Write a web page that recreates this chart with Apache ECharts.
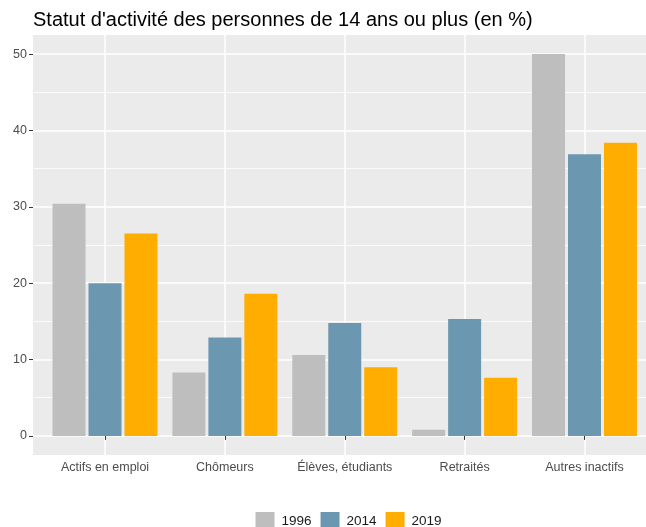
<!DOCTYPE html>
<html>
<head>
    <meta charset="utf-8">
    <title>Statut d'activité</title>
    <script src="https://cdn.jsdelivr.net/npm/echarts@6/dist/echarts.min.js"></script>
</head>
<body style="margin:0;background:#fff;">
    <div id="main" style="width:646px;height:527px;"></div>
    <script type="text/javascript">
        // données
        var categories = ['Actifs en emploi', 'Chômeurs', 'Élèves, étudiants', 'Retraités', 'Autres inactifs'];
        var annees = ['1996', '2014', '2019'];
        var v1996 = [30.4, 8.3, 10.6, 0.8, 50.0];
        var v2014 = [20.0, 12.9, 14.8, 15.3, 36.9];
        var v2019 = [26.5, 18.6, 9.0, 7.6, 38.4];
        var yTicks = [0, 10, 20, 30, 40, 50];

        var couleurs = ['#BEBEBE', '#6C97B0', '#FFAD00'];
        var police = 'Liberation Sans, Arial, sans-serif';

        var myChart = echarts.init(document.getElementById('main'));

        var option = {
            backgroundColor: '#fff',
            animation: false,
            color: couleurs,
            title: {
                text: "Statut d'activité des personnes de 14 ans ou plus (en %)",
                left: 33,
                top: 10,
                padding: 0,
                textStyle: {color: '#000', fontSize: 20, fontWeight: 'normal', fontFamily: police}
            },
            legend: {
                data: annees,
                left: 255.5,
                top: 512,
                padding: 0,
                icon: 'rect',
                itemWidth: 19,
                itemHeight: 19,
                itemGap: 9,
                textStyle: {color: '#1A1A1A', fontSize: 13.5, fontFamily: police, padding: [0, 0, 0, 2]}
            },
            grid: [
                // 0 : lignes horizontales et axe y (0..50)
                {left: 33, right: 0, top: 54.1, bottom: 527 - 435.9},
                // 1 : catégories et barres
                {left: 105, right: 61.5, top: 35, bottom: 72},
                // 2 : fond du panneau
                {left: 33, right: 0, top: 35, bottom: 72, show: true, backgroundColor: '#EBEBEB', borderWidth: 0}
            ],
            xAxis: [
                {gridIndex: 0, type: 'value', show: false},
                {
                    gridIndex: 1,
                    type: 'category',
                    data: categories,
                    boundaryGap: false,
                    axisLine: {show: false},
                    axisTick: {show: true, length: 4, lineStyle: {color: '#333'}},
                    axisLabel: {color: '#4D4D4D', fontSize: 12.5, fontFamily: police, margin: 6, interval: 0},
                    splitLine: {show: true, lineStyle: {color: '#fff', width: 1.5}}
                },
                {gridIndex: 2, type: 'value', show: false}
            ],
            yAxis: [
                {
                    gridIndex: 0,
                    type: 'value',
                    min: yTicks[0],
                    max: yTicks[yTicks.length - 1],
                    interval: 10,
                    axisLine: {show: false},
                    axisTick: {show: true, length: 4, lineStyle: {color: '#333'}},
                    axisLabel: {color: '#4D4D4D', fontSize: 12.5, fontFamily: police, margin: 6},
                    splitLine: {show: true, lineStyle: {color: '#fff', width: 1.5}},
                    minorTick: {show: false, splitNumber: 2},
                    minorSplitLine: {show: true, lineStyle: {color: '#fff', width: 0.8}}
                },
                {gridIndex: 1, type: 'value', min: -2.5, max: 52.5, show: false},
                {gridIndex: 2, type: 'value', show: false}
            ],
            series: [
                {name: '1996', type: 'bar', xAxisIndex: 1, yAxisIndex: 1, data: v1996, barWidth: 33, barGap: '9%', clip: false},
                {name: '2014', type: 'bar', xAxisIndex: 1, yAxisIndex: 1, data: v2014, barWidth: 33, barGap: '9%', clip: false},
                {name: '2019', type: 'bar', xAxisIndex: 1, yAxisIndex: 1, data: v2019, barWidth: 33, barGap: '9%', clip: false}
            ]
        };

        myChart.setOption(option);
    </script>
</body>
</html>
